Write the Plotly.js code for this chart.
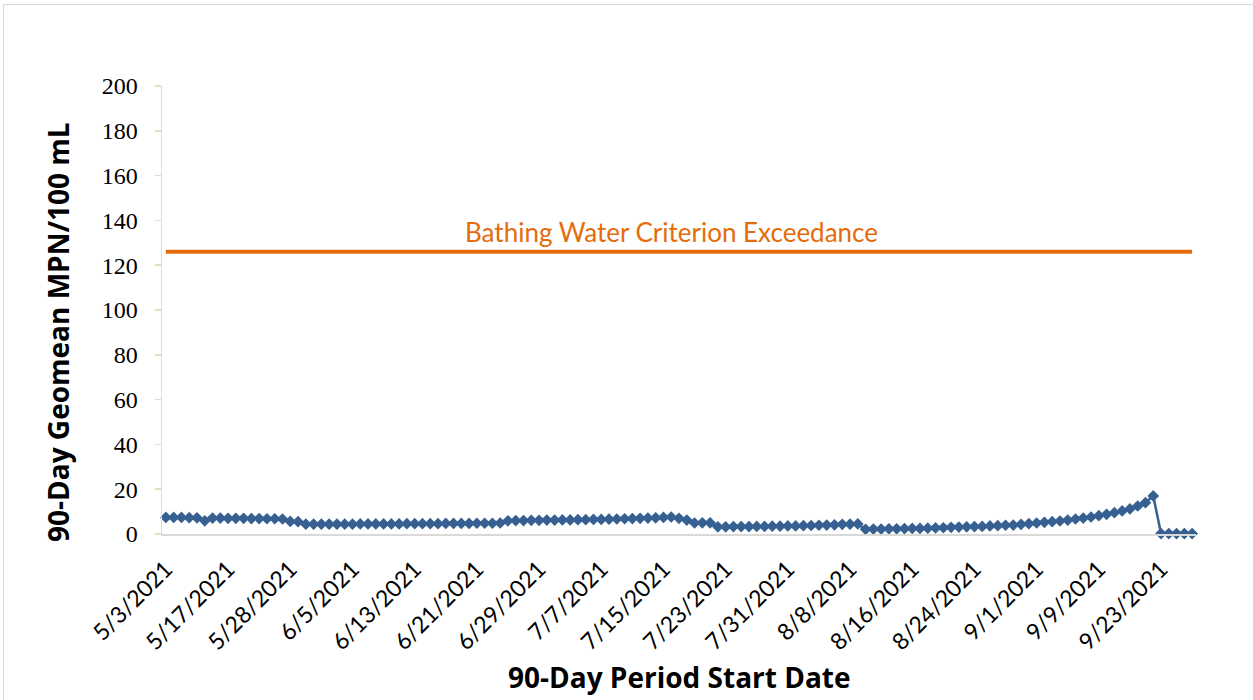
<!DOCTYPE html>
<html>
<head>
<meta charset="utf-8">
<script src="https://cdn.plot.ly/plotly-3.0.1.min.js"></script>
<style>
  html, body { margin: 0; padding: 0; background: #ffffff; }
  #frame { position: absolute; left: 3px; top: 4px; width: 1300px; height: 750px; border: 1px solid #d9d9d9; box-sizing: border-box; }
  #chart { position: absolute; left: 0; top: 0; width: 1253px; height: 700px; }
</style>
</head>
<body>
<div id="frame"></div>
<div id="chart"></div>
<script>
// Category labels (90-day period start dates)
const categories = [
  "5/3/2021","5/4/2021","5/5/2021","5/6/2021","5/10/2021","5/11/2021","5/12/2021","5/13/2021",
  "5/17/2021","5/18/2021","5/19/2021","5/20/2021","5/21/2021","5/24/2021","5/25/2021","5/26/2021",
  "5/28/2021","5/29/2021","5/30/2021","5/31/2021",
  "6/1/2021","6/2/2021","6/3/2021","6/4/2021","6/5/2021","6/6/2021","6/7/2021","6/8/2021","6/9/2021","6/10/2021",
  "6/11/2021","6/12/2021","6/13/2021","6/14/2021","6/15/2021","6/16/2021","6/17/2021","6/18/2021","6/19/2021","6/20/2021",
  "6/21/2021","6/22/2021","6/23/2021","6/24/2021","6/25/2021","6/26/2021","6/27/2021","6/28/2021","6/29/2021","6/30/2021",
  "7/1/2021","7/2/2021","7/3/2021","7/4/2021","7/5/2021","7/6/2021","7/7/2021","7/8/2021","7/9/2021","7/10/2021",
  "7/11/2021","7/12/2021","7/13/2021","7/14/2021","7/15/2021","7/16/2021","7/17/2021","7/18/2021","7/19/2021","7/20/2021",
  "7/21/2021","7/22/2021","7/23/2021","7/24/2021","7/25/2021","7/26/2021","7/27/2021","7/28/2021","7/29/2021","7/30/2021",
  "7/31/2021",
  "8/1/2021","8/2/2021","8/3/2021","8/4/2021","8/5/2021","8/6/2021","8/7/2021","8/8/2021","8/9/2021","8/10/2021",
  "8/11/2021","8/12/2021","8/13/2021","8/14/2021","8/15/2021","8/16/2021","8/17/2021","8/18/2021","8/19/2021","8/20/2021",
  "8/21/2021","8/22/2021","8/23/2021","8/24/2021","8/25/2021","8/26/2021","8/27/2021","8/28/2021","8/29/2021","8/30/2021",
  "8/31/2021",
  "9/1/2021","9/2/2021","9/3/2021","9/4/2021","9/5/2021","9/6/2021","9/7/2021","9/8/2021","9/9/2021",
  "9/10/2021","9/13/2021","9/14/2021","9/15/2021","9/16/2021","9/17/2021","9/20/2021","9/23/2021",
  "9/24/2021","9/27/2021","9/28/2021","9/29/2021"
];

// 90-day geometric mean, MPN/100 mL
const geomean = [
  7.4, 7.4, 7.4, 7.3, 7.2, 5.9, 7.1, 7.1, 7.0, 7.0, 7.0, 6.9, 6.9, 6.8, 6.8, 6.7, 5.6, 5.5, 4.4,
  4.4, 4.4, 4.4, 4.4, 4.4, 4.4, 4.5, 4.5, 4.5, 4.5, 4.5, 4.5, 4.6, 4.6, 4.6,
  4.6, 4.6, 4.7, 4.7, 4.7, 4.7, 4.8, 4.8, 4.8, 4.9,
  5.9, 6.0, 6.0, 6.1, 6.1, 6.2, 6.2, 6.3, 6.3, 6.4, 6.4, 6.5, 6.5, 6.6, 6.7, 6.8, 6.9, 7.0, 7.1, 7.2, 7.4, 7.6,
  7.0, 6.2, 4.9, 5.0, 5.0,
  3.2, 3.2, 3.3, 3.3, 3.3, 3.4, 3.4, 3.5, 3.5, 3.6, 3.6, 3.7, 3.8, 3.9, 4.0, 4.1, 4.3, 4.4, 4.5,
  2.1, 2.2, 2.2, 2.3, 2.3, 2.4, 2.5, 2.5, 2.6, 2.7, 2.8,
  3.0, 3.1, 3.2, 3.3, 3.4, 3.6, 3.7, 3.9, 4.0, 4.3, 4.6, 4.9, 5.2, 5.5, 5.8, 6.2, 6.7, 7.1, 7.6, 8.2, 8.8, 9.5, 10.3, 11.2, 12.5, 14.0, 17.0,
  0.2, 0.2, 0.2, 0.2, 0.2
];

// Bathing water criterion (MPN/100 mL)
const criterion = 126;
const criterionLabel = "Bathing Water Criterion Exceedance";

// Tick labels shown on the x axis
const tickLabels = [
  "5/3/2021","5/17/2021","5/28/2021","6/5/2021","6/13/2021","6/21/2021","6/29/2021","7/7/2021",
  "7/15/2021","7/23/2021","7/31/2021","8/8/2021","8/16/2021","8/24/2021","9/1/2021","9/9/2021","9/23/2021"
];

const yTitle = "90-Day Geomean MPN/100 mL";
const xTitle = "90-Day Period Start Date";

const nCat = categories.length;

const traces = [
  {
    type: "scatter",
    mode: "lines",
    x: [categories[0], categories[nCat - 1]],
    y: [criterion, criterion],
    line: { color: "#e46c0a", width: 4 },
    hoverinfo: "skip",
    showlegend: false
  },
  {
    type: "scatter",
    mode: "lines+markers",
    x: categories,
    y: geomean,
    line: { color: "#376092", width: 2.5 },
    marker: { symbol: "diamond", size: 9, color: "#376092" },
    cliponaxis: false,
    showlegend: false
  }
];

const layout = {
  width: 1253,
  height: 700,
  paper_bgcolor: "rgba(0,0,0,0)",
  plot_bgcolor: "rgba(0,0,0,0)",
  margin: { l: 162, r: 57, t: 86, b: 166 },
  showlegend: false,
  xaxis: {
    type: "category",
    categoryorder: "array",
    categoryarray: categories,
    range: [-0.5, nCat - 0.5],
    tickmode: "array",
    tickvals: tickLabels,
    ticktext: tickLabels,
    tickangle: -45,
    ticks: "",
    ticklabelstandoff: 11,
    showline: true,
    linecolor: "#d9d9d9",
    linewidth: 1.5,
    showgrid: false,
    zeroline: false,
    tickfont: { family: "Lato, Open Sans, sans-serif", size: 23, color: "#000000" }
  },
  xaxis2: {
    overlaying: "x",
    anchor: "y",
    side: "bottom",
    type: "linear",
    range: [-0.5, nCat - 0.5],
    tickmode: "linear",
    tick0: -0.5,
    dtick: 5,
    ticks: "outside",
    ticklen: 6,
    tickwidth: 1.5,
    tickcolor: "#d9d9d9",
    showticklabels: false,
    showline: false,
    showgrid: false,
    zeroline: false
  },
  yaxis: {
    range: [0, 200],
    tickmode: "linear",
    tick0: 0,
    dtick: 20,
    ticks: "outside",
    ticklen: 6,
    tickwidth: 1.5,
    tickcolor: "#d7e4bd",
    ticklabelstandoff: 12,
    showline: true,
    linecolor: "#d7e4bd",
    linewidth: 1.5,
    showgrid: false,
    zeroline: false,
    tickfont: { family: "Liberation Serif, Times New Roman, serif", size: 24, color: "#000000" }
  },
  annotations: [
    {
      xref: "paper", yref: "paper",
      x: -0.1, y: 0.45,
      text: yTitle,
      textangle: -90,
      showarrow: false,
      xanchor: "center", yanchor: "middle",
      font: { family: "Open Sans, sans-serif", size: 28, color: "#000000", weight: 700 }
    },
    {
      xref: "paper", yref: "paper",
      x: 0.5, y: -0.32,
      text: xTitle,
      showarrow: false,
      xanchor: "center", yanchor: "middle",
      font: { family: "Open Sans, sans-serif", size: 28, color: "#000000", weight: 700 }
    },
    {
      xref: "paper", yref: "y",
      x: 0.493, y: criterion,
      yshift: 20,
      text: criterionLabel,
      showarrow: false,
      xanchor: "center", yanchor: "middle",
      font: { family: "Lato, sans-serif", size: 26, color: "#e46c0a" }
    }
  ]
};

Plotly.newPlot("chart", traces, layout, { staticPlot: true, displayModeBar: false });
</script>
</body>
</html>
